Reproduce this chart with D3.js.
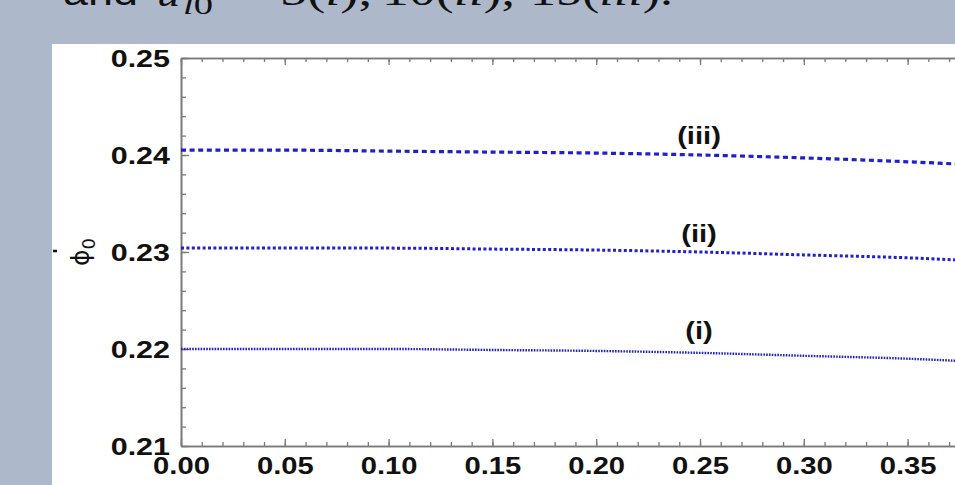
<!DOCTYPE html>
<html>
<head>
<meta charset="utf-8">
<script src="https://cdn.jsdelivr.net/npm/d3@7"></script>
<style>
  html, body { margin: 0; padding: 0; background: #adb9cb; }
  svg { display: block; }
</style>
</head>
<body>
<svg id="chart" width="955" height="485"></svg>
<script>
// ---- data ----
const xValues = [0, 0.05, 0.10, 0.15, 0.20, 0.25, 0.30, 0.35, 0.40];
const seriesI   = [0.2200, 0.2200, 0.2200, 0.2199, 0.2198, 0.2196, 0.2193, 0.2190, 0.2185];
const seriesII  = [0.2304, 0.2304, 0.2304, 0.2303, 0.2302, 0.2300, 0.2297, 0.2294, 0.2289];
const seriesIII = [0.2405, 0.2405, 0.2404, 0.2403, 0.2402, 0.2400, 0.2397, 0.2393, 0.2388];
const seriesNames = ["(i)", "(ii)", "(iii)"];
const xTickLabels = ["0.00", "0.05", "0.10", "0.15", "0.20", "0.25", "0.30", "0.35", "0.40"];
const yTickLabels = ["0.21", "0.22", "0.23", "0.24", "0.25"];
const xMajor = [0, 0.05, 0.10, 0.15, 0.20, 0.25, 0.30, 0.35, 0.40];
const yMajor = [0.21, 0.22, 0.23, 0.24, 0.25];
const xMinorStep = 0.01;
const yMinorStep = 0.002;
const labelAt = 0.25;   // x position where curve labels sit

const svg = d3.select("#chart");
const SX = 1.27; // horizontal stretch of the picture's text

// white panel
svg.append("rect").attr("x", 52).attr("y", 44).attr("width", 955 - 52).attr("height", 485 - 44).attr("fill", "#ffffff");

// title (cut off at top in the reference)
const title = svg.append("g").attr("fill", "#111");
title.append("text").attr("x", 63).attr("y", 5)
  .attr("font-family", "Liberation Sans, Arial, sans-serif").attr("font-size", 36)
  .attr("textLength", 75).attr("lengthAdjust", "spacingAndGlyphs").text("and");
title.append("text").attr("x", 157).attr("y", 6)
  .attr("font-family", "Liberation Serif, serif").attr("font-style", "italic").attr("font-size", 40)
  .attr("textLength", 23).attr("lengthAdjust", "spacingAndGlyphs").text("u");
const sub = title.append("text").attr("x", 183).attr("y", 14)
  .attr("font-family", "Liberation Serif, serif").attr("font-size", 28)
  .attr("textLength", 30).attr("lengthAdjust", "spacingAndGlyphs");
sub.append("tspan").attr("font-style", "italic").text("l");
sub.append("tspan").text("0");
title.append("text").attr("x", 228).attr("y", 4)
  .attr("font-family", "Liberation Serif, serif").attr("font-size", 40).text("=");
function mathPiece(x, w, num, roman, tail) {
  const t = title.append("text").attr("x", x).attr("y", 5)
    .attr("font-family", "Liberation Serif, serif").attr("font-size", 40)
    .attr("textLength", w).attr("lengthAdjust", "spacingAndGlyphs");
  t.append("tspan").text(num + "(");
  t.append("tspan").attr("font-style", "italic").text(roman);
  t.append("tspan").text(tail);
}
mathPiece(280, 92, "5", "i", "),");
mathPiece(382, 133, "10", "ii", "),");
mathPiece(530, 143, "15", "iii", ").");

// scales
const x0 = 181, y0 = 446, yTop = 58, pxPerTenth = 207.6;
const x = d3.scaleLinear().domain([0, 0.4]).range([x0, x0 + 4 * pxPerTenth]);
const y = d3.scaleLinear().domain([0.21, 0.25]).range([y0, yTop]);

const axisColor = "#7a7a7a";
const xMinor = d3.range(0, 0.4 + 1e-9, xMinorStep);
const yMinor = d3.range(0.21, 0.25 + 1e-9, yMinorStep);

function styleAxis(g) {
  g.selectAll("line").attr("stroke", axisColor).attr("stroke-width", 1.3);
  g.selectAll("path").attr("stroke", axisColor).attr("stroke-width", 1.6);
}

// minor ticks
svg.append("g").attr("transform", `translate(0,${y0})`)
  .call(d3.axisBottom(x).tickValues(xMinor).tickSizeInner(-4).tickSizeOuter(0).tickFormat(""))
  .call(styleAxis);
svg.append("g").attr("transform", `translate(0,${yTop})`)
  .call(d3.axisTop(x).tickValues(xMinor).tickSizeInner(-4).tickSizeOuter(0).tickFormat(""))
  .call(styleAxis);
svg.append("g").attr("transform", `translate(${x0},0)`)
  .call(d3.axisLeft(y).tickValues(yMinor).tickSizeInner(-5).tickSizeOuter(0).tickFormat(""))
  .call(styleAxis);

// major ticks + labels
const gx = svg.append("g").attr("transform", `translate(0,${y0})`)
  .call(d3.axisBottom(x).tickValues(xMajor).tickSizeInner(-7).tickSizeOuter(0).tickPadding(0)
        .tickFormat((d, i) => xTickLabels[i]))
  .call(styleAxis);
gx.selectAll("text")
  .attr("font-family", "Liberation Sans, Arial, sans-serif").attr("font-weight", "bold")
  .attr("font-size", 23).attr("fill", "#111")
  .attr("dy", null).attr("y", 28.5)
  .attr("transform", `scale(${SX},1)`);

svg.append("g").attr("transform", `translate(0,${yTop})`)
  .call(d3.axisTop(x).tickValues(xMajor).tickSizeInner(-7).tickSizeOuter(0).tickFormat(""))
  .call(styleAxis);

const gy = svg.append("g").attr("transform", `translate(${x0},0)`)
  .call(d3.axisLeft(y).tickValues(yMajor).tickSizeInner(-8).tickSizeOuter(0).tickPadding(11)
        .tickFormat((d, i) => yTickLabels[i]))
  .call(styleAxis);
gy.selectAll("text")
  .attr("font-family", "Liberation Sans, Arial, sans-serif").attr("font-weight", "bold")
  .attr("font-size", 24).attr("fill", "#111")
  .attr("x", -11 / SX).attr("dy", "0.36em")
  .attr("transform", `scale(${SX},1)`);

// y axis title ϕ0
const yt = svg.append("text")
  .attr("transform", "translate(89,252) rotate(-90)")
  .attr("text-anchor", "middle")
  .attr("font-family", "DejaVu Sans, sans-serif")
  .attr("font-size", 25).attr("fill", "#111");
yt.append("tspan").text("ϕ");
yt.append("tspan").attr("font-size", 18).attr("dy", 6).text("0");
svg.append("line").attr("x1", 53).attr("x2", 57).attr("y1", 251).attr("y2", 251)
  .attr("stroke", "#111").attr("stroke-width", 2.5);

// clip for curves
svg.append("clipPath").attr("id", "plotclip").append("rect")
  .attr("x", x0).attr("y", yTop).attr("width", 4 * pxPerTenth).attr("height", y0 - yTop);

const series = [
  { name: seriesNames[0], values: seriesI,   dash: "1.6,1.2", width: 2.4, labelY: 339 },
  { name: seriesNames[1], values: seriesII,  dash: "3,2.4",   width: 3,   labelY: 242 },
  { name: seriesNames[2], values: seriesIII, dash: "5,3.6",   width: 3.2, labelY: 144 }
];

const line = d3.line().x((d, i) => x(xValues[i])).y(d => y(d)).curve(d3.curveMonotoneX);

const gl = svg.append("g").attr("clip-path", "url(#plotclip)");
series.forEach(s => {
  gl.append("path").datum(s.values)
    .attr("d", line).attr("fill", "none")
    .attr("stroke", "#1f1fcc").attr("stroke-width", s.width)
    .attr("stroke-dasharray", s.dash);
  svg.append("text")
    .attr("transform", `translate(${x(labelAt) - 1},${s.labelY}) scale(${SX},1)`)
    .attr("text-anchor", "middle")
    .attr("font-family", "Liberation Sans, Arial, sans-serif").attr("font-weight", "bold")
    .attr("font-size", 23).attr("fill", "#111")
    .text(s.name);
});
</script>
</body>
</html>
